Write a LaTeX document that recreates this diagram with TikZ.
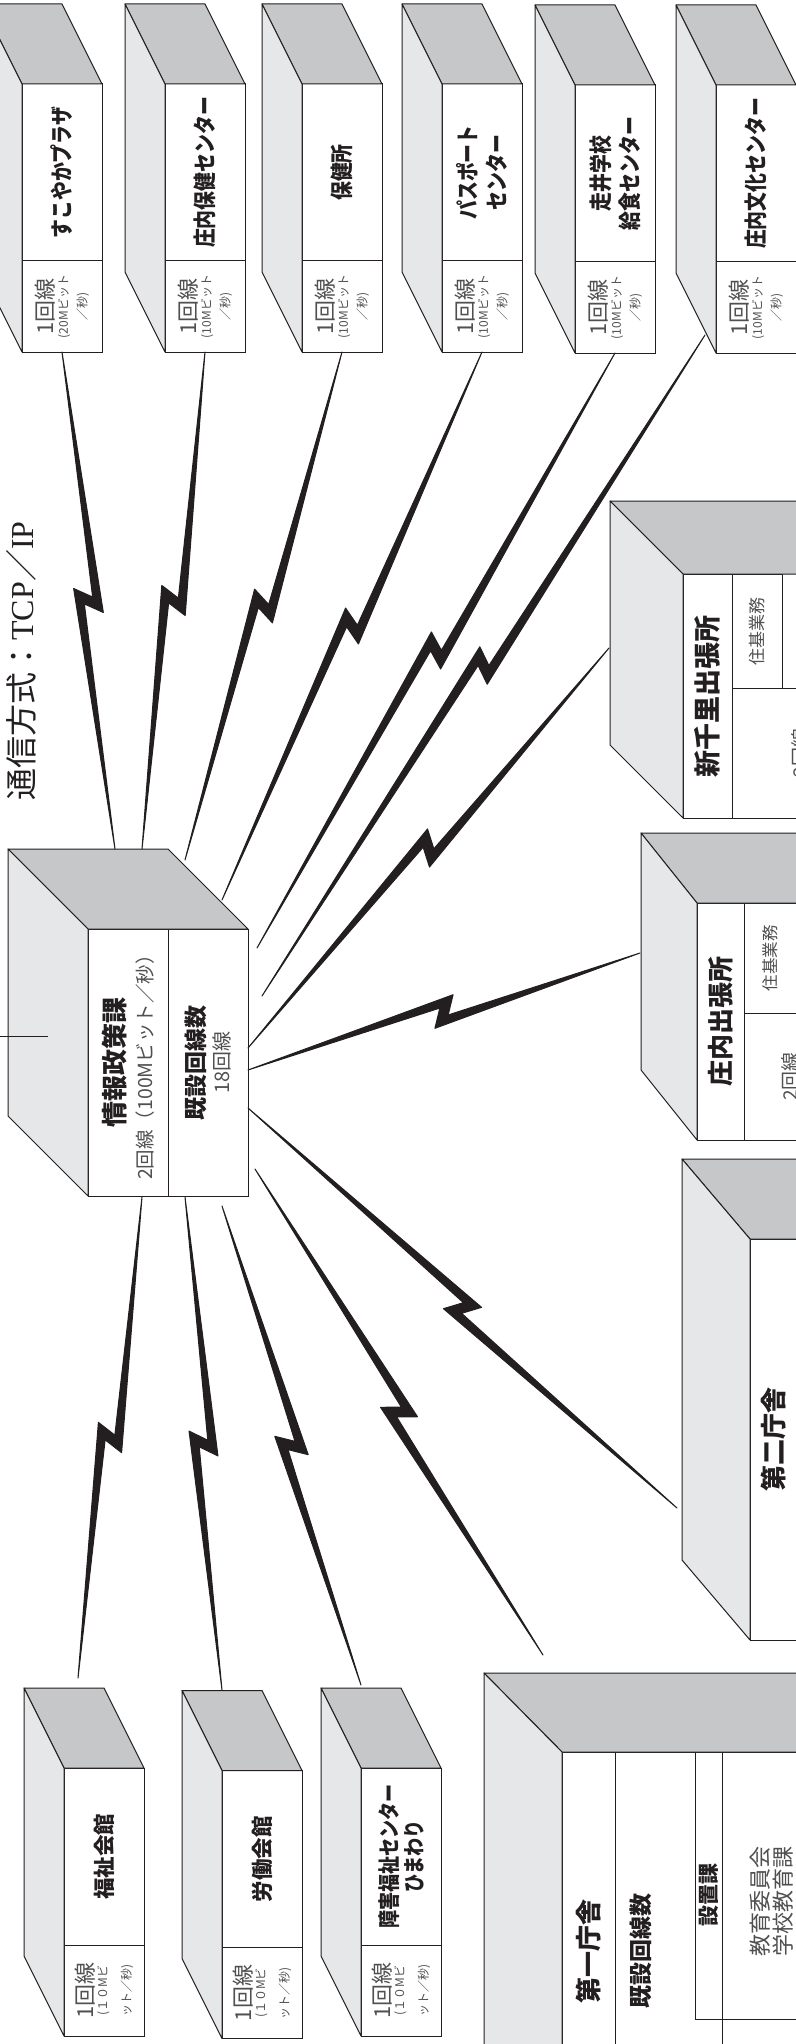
\documentclass[tikz,border=0pt]{standalone}
\usepackage{fontspec}
\setmainfont{Noto Sans CJK JP}
\newfontfamily\namejp{Noto Sans CJK JP}[FakeStretch=0.82]
\newfontfamily\latinserif{Liberation Serif}
\usepackage{tikz}
\usetikzlibrary{calc}

\definecolor{ink}{RGB}{35,31,32}
\definecolor{roofgray}{RGB}{198,199,201}
\definecolor{wallgray}{RGB}{230,231,233}
\definecolor{pale}{RGB}{80,80,80}

\newcommand\namefont{\namejp\bfseries\fontsize{23}{23}\selectfont}
\newcommand\infobig{\fontsize{22}{22}\selectfont}
\newcommand\vstrut[1]{\rule{0pt}{#1}}

\tikzset{
    face/.style={draw=ink, fill=white, line width=1pt, rotate=90,
        inner sep=0pt, outer sep=0pt, align=center, text=ink},
    namecell/.style={face, minimum width=177pt, minimum height=80pt,
        font=\namefont},
    infocell/.style={face, minimum width=91pt, minimum height=80pt,
        text=pale, font=\fontsize{12}{12}\selectfont},
    roofface/.style={draw=ink, fill=roofgray, line width=1pt, line join=round},
    wallface/.style={draw=ink, fill=wallgray, line width=1pt, line join=round},
    boltline/.style={draw=ink, fill=ink, line width=1pt, line join=round},
    plainline/.style={draw=ink, line width=1pt},
}

% roof and side of a box: front top left, front top right, front bottom left, depth
\newcommand\slab[5]{%
    \filldraw[roofface] (#1) -- ++(-#4,-#5) -- ($(#2)+(-#4,-#5)$) -- (#2) -- cycle;
    \filldraw[wallface] (#1) -- ++(-#4,-#5) -- ($(#3)+(-#4,-#5)$) -- (#3) -- cycle;
}

% lightning line with its zigzag half way
\newcommand\bolt[2]{%
    \coordinate (bm) at ($(#1)!0.5!(#2)$);
    \filldraw[boltline] (#1)
        -- ($(bm)!13.5pt!(#2)!13.5pt!90:(#2)$)
        -- ($(bm)!3pt!(#2)!4.5pt!-90:(#2)$)
        -- (#2)
        -- ($(bm)!-13.5pt!(#2)!13.5pt!-90:(#2)$)
        -- ($(bm)!-3pt!(#2)!4.5pt!90:(#2)$)
        -- cycle;
}

\begin{document}
\begin{tikzpicture}[x=1pt, y=-1pt]

\useasboundingbox (0,0) rectangle (795,2044);

\node [rotate=90,
    inner sep=0pt,
    text=ink,
    font=\fontsize{32}{32}\selectfont
] (title) at (21,661) {通信方式：{\latinserif TCP}／{\latinserif IP}};

% upper row
\node [namecell] (sk) at (62,172.5) {すこやかプラザ};
\node [infocell, anchor=east] (sk-l) at (sk.west) {{\infobig 1回線}\\\vstrut{11.5pt}(20Mビット\\\vstrut{15.5pt}／秒)};
\slab{sk.north east}{sk.south east}{sk-l.north west}{40}{80}

\node [namecell] (shk) at (205,172.5) {庄内保健センター};
\node [infocell, anchor=east] (shk-l) at (shk.west) {{\infobig 1回線}\\\vstrut{11.5pt}(10Mビット\\\vstrut{15.5pt}／秒)};
\slab{shk.north east}{shk.south east}{shk-l.north west}{40}{80}

\node [namecell] (hk) at (342,172.5) {保健所};
\node [infocell, anchor=east] (hk-l) at (hk.west) {{\infobig 1回線}\\\vstrut{11.5pt}(10Mビット\\\vstrut{15.5pt}／秒)};
\slab{hk.north east}{hk.south east}{hk-l.north west}{40}{80}

\node [namecell] (pp) at (482,172.5) {パスポート\\\vstrut{26pt}センター};
\node [infocell, anchor=east] (pp-l) at (pp.west) {{\infobig 1回線}\\\vstrut{11.5pt}(10Mビット\\\vstrut{15.5pt}／秒)};
\slab{pp.north east}{pp.south east}{pp-l.north west}{40}{80}

\node [namecell] (gs) at (615,173.5) {走井学校\\\vstrut{26pt}給食センター};
\node [infocell, anchor=east] (gs-l) at (gs.west) {{\infobig 1回線}\\\vstrut{11.5pt}(10Mビット\\\vstrut{15.5pt}／秒)};
\slab{gs.north east}{gs.south east}{gs-l.north west}{40}{80}

\node [namecell] (bk) at (756,173.5) {庄内文化センター};
\node [infocell, anchor=east] (bk-l) at (bk.west) {{\infobig 1回線}\\\vstrut{11.5pt}(10Mビット\\\vstrut{15.5pt}／秒)};
\slab{bk.north east}{bk.south east}{bk-l.north west}{40}{80}

% centre
\node [face,
    minimum width=267pt,
    minimum height=80pt,
    font=\fontsize{19.5}{19.5}\selectfont
] (jh) at (128,1062.5) {{\bfseries\fontsize{26}{26}\selectfont 情報政策課}\\\vstrut{24.5pt}{\color{pale}2回線（100Mビット／秒）}};

\node [face,
    minimum width=267pt,
    minimum height=80pt,
    font=\fontsize{20}{20}\selectfont
] (ks) at (208,1062.5) {{\bfseries\fontsize{23}{23}\selectfont 既設回線数}\\\vstrut{22pt}{\color{pale}18回線}};
\slab{jh.north east}{ks.south east}{jh.north west}{80}{80}

% right side
\node [face,
    minimum width=244pt,
    minimum height=49pt,
    font=\bfseries\fontsize{27}{27}\selectfont
] (sn) at (707.5,696) {新千里出張所};
\node [face,
    minimum width=114pt,
    minimum height=50pt,
    text=pale,
    font=\fontsize{17}{17}\selectfont
] (sn-j) at (757,631) {住基業務};
\node [face,
    minimum width=130pt,
    minimum height=136pt,
    text=pale,
    font=\fontsize{19}{19}\selectfont
] (sn-l) at (800,753) {2回線};
\slab{sn.north east}{1000,574}{sn.north west}{73}{73}

\node [face,
    minimum width=237pt,
    minimum height=47pt,
    font=\bfseries\fontsize{26}{26}\selectfont
] (sh) at (720.5,1021.5) {庄内出張所};
\node [face,
    minimum width=110pt,
    minimum height=52pt,
    text=pale,
    font=\fontsize{16.5}{16.5}\selectfont
] (sh-j) at (770,958) {住基業務};
\node [face,
    minimum width=127pt,
    minimum height=92pt,
    text=pale,
    font=\fontsize{19}{19}\selectfont
] (sh-l) at (790,1076.5) {2回線};
\slab{sh.north east}{1000,903}{sh.north west}{56}{70}

\node [face,
    minimum width=401pt,
    minimum height=48pt,
    font=\bfseries\fontsize{26}{26}\selectfont
] (d2) at (774,1439.5) {第二庁舎};
\slab{d2.north east}{1000,1239}{d2.north west}{68}{80}

% first building
\node [face,
    minimum width=400pt,
    minimum height=340pt
] (d1) at (732,1952) {};
\slab{d1.north east}{d1.south east}{d1.north west}{78}{79}
\draw [plainline] (615,1752) -- (615,2152);
\draw [plainline] (722,1752) -- (722,2152);
\draw [plainline] (695,1752) -- (695,2019) -- (902,2019);
\node [rotate=90, text=ink, font=\bfseries\fontsize{26}{26}\selectfont] (d1-name) at (588.5,1951) {第一庁舎};
\node [rotate=90, text=ink, font=\bfseries\fontsize{23}{23}\selectfont] (d1-k) at (641,1951) {既設回線数};
\node [rotate=90, text=ink, font=\bfseries\fontsize{21}{21}\selectfont] (d1-s) at (708.5,1894.5) {設置課};
\node [rotate=90, align=center, text=pale, font=\fontsize{22}{23}\selectfont] (d1-e) at (771.5,1901) {教育委員会\\学校教育課};

% lower row
\node [namecell, font=\bfseries\fontsize{21.5}{21.5}\selectfont] (fk) at (104,1856.5) {福祉会館};
\node [infocell, anchor=east] (fk-l) at (fk.west) {{\infobig 1回線}\\\vstrut{11pt}(１０Mビ\\\vstrut{20.5pt}ット／秒)};
\slab{fk.north east}{fk.south east}{fk-l.north west}{40}{80}

\node [namecell, font=\bfseries\fontsize{21.5}{21.5}\selectfont] (rd) at (262,1859) {労働会館};
\node [infocell, anchor=east] (rd-l) at (rd.west) {{\infobig 1回線}\\\vstrut{11pt}(１０Mビ\\\vstrut{20.5pt}ット／秒)};
\slab{rd.north east}{rd.south east}{rd-l.north west}{40}{80}

\node [namecell, font=\namejp\bfseries\fontsize{22}{22}\selectfont] (hm) at (401,1856.5) {障害福祉センター\\\vstrut{22pt}ひまわり};
\node [infocell, anchor=east] (hm-l) at (hm.west) {{\infobig 1回線}\\\vstrut{11pt}(１０Mビ\\\vstrut{20.5pt}ット／秒)};
\slab{hm.north east}{hm.south east}{hm-l.north west}{40}{80}

% line ends
\coordinate (bk-tap) at (705,335);
\coordinate (sn-tap) at (609,648);
\coordinate (sh-tap) at (640,953);
\coordinate (d2-tap) at (677,1508);
\coordinate (d1-tap) at (543,1655);
\coordinate (fk-tap) at (78,1678);
\coordinate (rd-tap) at (222,1690);
\coordinate (hm-tap) at (361,1685);

\coordinate (h1) at (115,849);
\coordinate (h2) at (142,849);
\coordinate (h3) at (185,860);
\coordinate (h4) at (222,900);
\coordinate (h5) at (257,948);
\coordinate (h6) at (262,996);
\coordinate (h7) at (248,1048);
\coordinate (h8) at (248,1070);
\coordinate (h9) at (248,1108);
\coordinate (h10) at (255,1169);
\coordinate (h11) at (142,1197);
\coordinate (h12) at (185,1197);
\coordinate (h13) at (222,1206);

\bolt{sk-l.west}{h1}
\bolt{shk-l.west}{h2}
\bolt{hk-l.west}{h3}
\bolt{pp-l.west}{h4}
\bolt{gs-l.west}{h5}
\bolt{bk-tap}{h6}
\bolt{sn-tap}{h7}
\bolt{sh-tap}{h8}
\bolt{d2-tap}{h9}
\bolt{d1-tap}{h10}
\bolt{fk-tap}{h11}
\bolt{rd-tap}{h12}
\bolt{hm-tap}{h13}

\coordinate (stub) at (0,1036);
\draw [plainline] (stub) -- ++(48,0);

\end{tikzpicture}
\end{document}
